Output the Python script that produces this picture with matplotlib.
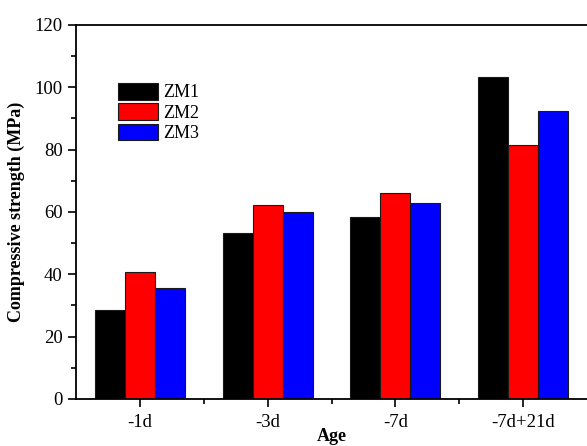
import numpy as np
import matplotlib.pyplot as plt
from matplotlib.ticker import MultipleLocator

plt.rcParams['font.family'] = ['Liberation Serif', 'DejaVu Serif']

# compressive strength by curing age
ages = ['-1d', '-3d', '-7d', '-7d+21d']
zm1 = [28.6, 53.2, 58.5, 103.2]
zm2 = [40.8, 62.4, 66.0, 81.5]
zm3 = [35.6, 60.0, 62.8, 92.3]
series = [('ZM1', zm1, '#000000'), ('ZM2', zm2, '#ff0000'), ('ZM3', zm3, '#0000ff')]

fig = plt.figure(figsize=(5.87, 4.46), dpi=100)
ax = fig.add_axes([0.1295, 0.1054, 0.8705, 0.8386])

x = np.arange(1, len(ages) + 1)
w = 0.235
for i, (name, vals, col) in enumerate(series):
    ax.bar(x + (i - 1) * w, vals, width=w, color=col, edgecolor='#1a1a1a',
           linewidth=0.8, label=name)

ax.set_xlim(0.5, 4.5)
ax.set_ylim(0, 120)
ax.set_xticks(x)
ax.set_xticklabels(ages)
ax.set_xticks([1.5, 2.5, 3.5], minor=True)
ax.yaxis.set_major_locator(MultipleLocator(20))
ax.yaxis.set_minor_locator(MultipleLocator(10))
ax.tick_params(which='major', length=6, width=1.2, labelsize=13.5, direction='out')
ax.tick_params(axis='x', which='major', pad=5)
ax.tick_params(which='minor', length=3.5, width=1.2, direction='out')

for s in ['left', 'bottom', 'top']:
    ax.spines[s].set_linewidth(1.3)
ax.spines['right'].set_visible(False)

ax.set_xlabel('Age', fontsize=13, fontweight='bold', labelpad=-2)
ax.set_ylabel('Compressive strength (MPa)', fontsize=13, fontweight='bold', labelpad=7)

ax.legend(loc='upper left', bbox_to_anchor=(0.082, 0.845), frameon=False,
          fontsize=13, handlelength=2.2, handleheight=1.05, handletextpad=0.3,
          labelspacing=0.1, borderpad=0, borderaxespad=0)

fig.savefig('out.png', dpi=100)
